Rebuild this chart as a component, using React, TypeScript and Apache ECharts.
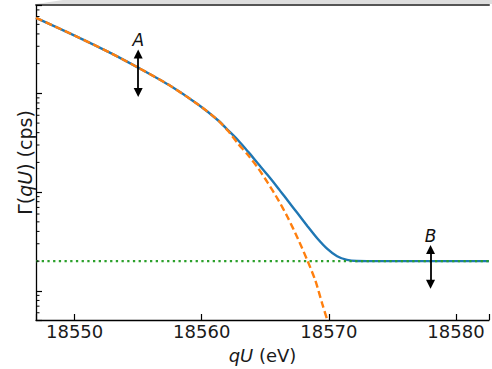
import React, { useEffect, useRef } from "react";
import * as echarts from "echarts";

// x range of the plotted axes (eV)
const xMin = 18546.96;
const xMax = 18582.6;
// y range (log axis, cps)
const yMin = 0.507;
const yMax = 785;

// Full model (blue, solid)
const blueQU = [18546.96, 18550.0, 18552.73, 18555.07, 18557.4, 18559.74, 18561.3, 18562.08, 18562.86, 18563.64, 18564.42, 18565.2, 18565.98, 18566.76, 18567.54, 18568.32, 18569.1, 18569.88, 18570.65, 18571.43, 18572.21, 18572.99, 18582.6];
const blueRate = [582, 385, 260, 180, 122, 76.7, 53.1, 42.2, 33.5, 25.7, 19.5, 14.8, 11.1, 8.22, 6.1, 4.52, 3.39, 2.66, 2.24, 2.06, 2.005, 2.0, 2.0];

// Signal only (orange, dashed)
const orangeQU = [18546.96, 18550.0, 18552.73, 18555.07, 18557.4, 18559.74, 18561.3, 18562.08, 18562.86, 18563.64, 18564.42, 18565.2, 18565.98, 18566.76, 18567.54, 18568.32, 18568.94, 18569.49, 18569.95];
const orangeRate = [582, 385, 260, 180, 122, 76.7, 53.1, 41.5, 30.9, 23.7, 17.6, 12.4, 8.51, 5.56, 3.43, 2.02, 1.27, 0.733, 0.473];

// Background (green, dotted)
const greenQU = [18546.96, 18582.6];
const greenRate = [2.0, 2.0];

// Double arrows
const arrowQU = [18555, 18578];
const arrowLow = [102, 1.17];
const arrowHigh = [251, 2.63];
const arrowLabels = ["A", "B"];

const xTickStep = 10;
const minorFactors = [2, 3, 4, 5, 6, 7, 8, 9];
const decades = [0.1, 1, 10, 100];

const FONT = "DejaVu Sans";

export default function App() {
  const ref = useRef<HTMLDivElement>(null);

  useEffect(() => {
    if (!ref.current) return;
    const chart = echarts.init(ref.current, null, { renderer: "svg" });
    const gridLeft = 36;
    const gridTop = 5;
    const gridBottom = 45.5;

    const option: any = {
      animation: false,
      backgroundColor: "#ffffff",
      grid: { left: gridLeft, right: 0, top: gridTop, bottom: gridBottom, containLabel: false },
      xAxis: [
        {
          type: "value",
          min: xMin,
          max: xMax,
          minInterval: xTickStep,
          maxInterval: xTickStep,
          splitLine: { show: false },
          axisLine: { show: true, onZero: false, lineStyle: { color: "#000", width: 1.3 } },
          axisTick: { show: true, inside: true, length: 6, lineStyle: { color: "#000", width: 1.2 } },
          axisLabel: {
            show: true,
            fontFamily: FONT,
            fontSize: 18,
            color: "#1a1a1a",
            margin: 2,
            formatter: (v: number) => (Math.abs(v / xTickStep - Math.round(v / xTickStep)) < 1e-6 ? String(Math.round(v)) : ""),
          },
          name: "{i|qU} (eV)",
          nameLocation: "middle",
          nameGap: 26,
          nameTextStyle: {
            fontFamily: FONT,
            fontSize: 18,
            color: "#1a1a1a",
            rich: { i: { fontFamily: FONT, fontSize: 18, fontStyle: "italic", color: "#1a1a1a" } },
          },
        },
        {
          type: "value",
          position: "top",
          min: xMin,
          max: xMax,
          splitLine: { show: false },
          axisLine: { show: true, onZero: false, lineStyle: { color: "#555", width: 2 } },
          axisTick: { show: false },
          axisLabel: { show: false },
        },
      ],
      yAxis: {
        type: "log",
        logBase: 10,
        min: yMin,
        max: yMax,
        splitNumber: 5,
        splitLine: { show: false },
        axisLine: { show: true, onZero: false, lineStyle: { color: "#000", width: 1.3 } },
        axisTick: { show: true, inside: true, length: 6, lineStyle: { color: "#000", width: 1.2 } },
        axisLabel: { show: false },
        name: "Γ({i|qU}) (cps)",
        nameLocation: "middle",
        nameGap: 2,
        nameTextStyle: {
          fontFamily: FONT,
          fontSize: 19,
          color: "#1a1a1a",
          rich: { i: { fontFamily: FONT, fontSize: 19, fontStyle: "italic", color: "#1a1a1a" } },
        },
      },
      series: [
        {
          type: "line",
          name: "model",
          data: blueQU.map((x, i) => [x, blueRate[i]]),
          showSymbol: false,
          symbol: "none",
          smooth: 0.25,
          lineStyle: { color: "#1f77b4", width: 2.4 },
          emphasis: { disabled: true },
          z: 2,
        },
        {
          type: "line",
          name: "signal",
          data: orangeQU.map((x, i) => [x, orangeRate[i]]),
          showSymbol: false,
          symbol: "none",
          smooth: 0.25,
          clip: true,
          lineStyle: { color: "#ff7f0e", width: 2.4, type: [7, 3.5] },
          emphasis: { disabled: true },
          z: 3,
        },
        {
          type: "line",
          name: "background",
          data: greenQU.map((x, i) => [x, greenRate[i]]),
          showSymbol: false,
          symbol: "none",
          lineStyle: { color: "#2ca02c", width: 2.3, type: [2.3, 3.4] },
          emphasis: { disabled: true },
          z: 4,
          markLine: {
            silent: true,
            symbol: ["triangle", "triangle"],
            symbolSize: [9, 9],
            lineStyle: { color: "#000", width: 1.8, type: "solid" },
            label: {
              show: true,
              position: "end",
              distance: 5,
              fontFamily: FONT,
              fontSize: 17,
              fontStyle: "italic",
              color: "#111",
              formatter: (p: any) => p.name,
            },
            emphasis: { disabled: true },
            data: arrowQU.map((x, i) => [
              { coord: [x, arrowLow[i]], name: arrowLabels[i] },
              { coord: [x, arrowHigh[i]] },
            ]),
          },
        },
      ],
    };
    chart.setOption(option);

    // minor log ticks (2..9 per decade)
    const minorEls: any[] = [];
    decades.forEach((d) => {
      minorFactors.forEach((f) => {
        const v = d * f;
        if (v > yMin && v < yMax) {
          const py = chart.convertToPixel({ yAxisIndex: 0 } as any, v) as unknown as number;
          minorEls.push({
            type: "line",
            silent: true,
            shape: { x1: gridLeft, y1: py, x2: gridLeft + 3.5, y2: py },
            style: { stroke: "#000", lineWidth: 1 },
            z: 10,
          });
        }
      });
    });

    chart.setOption({
      graphic: [
        {
          type: "polygon",
          silent: true,
          shape: { points: [[gridLeft, 4], [63, 0], [492, 0], [492, 4]] },
          style: { fill: "#dedede" },
          z: 0,
        },
        ...minorEls,
      ],
    });

    return () => chart.dispose();
  }, []);

  return (
    <div
      ref={ref}
      style={{ position: "fixed", left: 0, top: 0, width: 492, height: 369, background: "#fff" }}
    />
  );
}
